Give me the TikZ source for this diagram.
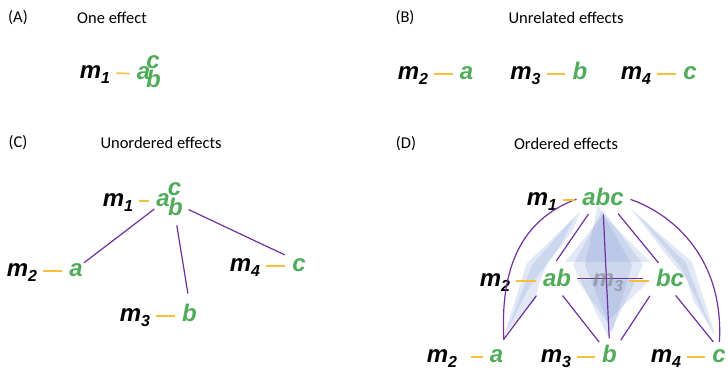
\documentclass[tikz,border=0pt]{standalone}
\usepackage{fontspec}
\newfontfamily\carlito{Carlito}
\newfontfamily\arialsans{Liberation Sans}
\usetikzlibrary{backgrounds}
\definecolor{linkpurple}{RGB}{112,48,160}
\definecolor{tieorange}{RGB}{246,190,58}
\definecolor{effgreen}{RGB}{80,172,90}
\definecolor{veilblue}{RGB}{125,150,210}
\newcommand{\msub}[1]{m\raisebox{-5pt}{\fontsize{16}{16}\selectfont #1}}
\tikzset{
  heading/.style={font=\carlito\fontsize{16.5}{19}\selectfont, inner sep=0pt},
  mlab/.style={font=\arialsans\bfseries\itshape\fontsize{24}{28}\selectfont, anchor=base, inner sep=1pt},
  eff/.style={mlab, text=effgreen},
  tie/.style={draw=tieorange, line width=1.5pt, shorten <=5pt, shorten >=6pt, transform canvas={yshift=4pt}},
  link/.style={draw=linkpurple, line width=1.2pt},
  veil/.style={fill=veilblue, fill opacity=0.22}
}

\begin{document}
\begin{tikzpicture}[x=1pt, y=1pt]
  \useasboundingbox (0,0) rectangle (728,371);

  \draw (18,353) node[heading] (hA) {(A)}; \draw (112,353) node[heading] (tA) {One effect};
  \draw (405,353) node[heading] (hB) {(B)}; \draw (566,353) node[heading] (tB) {Unrelated effects};
  \draw (18,228) node[heading] (hC) {(C)}; \draw (161,228) node[heading] (tC) {Unordered effects};
  \draw (406,227) node[heading] (hD) {(D)}; \draw (566,227) node[heading] (tD) {Ordered effects};

  % (A)
  \draw (95,292) node[mlab] (m1A) {\msub{1}};
  \draw (143.5,291) node[eff] (aA) {a};
  \draw (153,302) node[eff] (cA) {c}; \draw (153.5,283) node[eff] (bA) {b};
  \draw[tie] (m1A.mid east) -- (aA.mid west);

  % (B)
  \draw (413,291) node[mlab] (m2B) {\msub{2}}; \draw (466.5,291) node[eff] (aB) {a};
  \draw (525.5,291) node[mlab] (m3B) {\msub{3}}; \draw (580,291) node[eff] (bB) {b};
  \draw (636,291) node[mlab] (m4B) {\msub{4}}; \draw (690,291) node[eff] (cB) {c};
  \draw[tie] (m2B.mid east) -- (aB.mid west);
  \draw[tie] (m3B.mid east) -- (bB.mid west);
  \draw[tie] (m4B.mid east) -- (cB.mid west);

  % (C)
  \draw (118,164) node[mlab] (m1C) {\msub{1}}; \draw (163,164) node[eff] (aC) {a};
  \draw (174.5,175) node[eff] (cC) {c}; \draw (175.5,155) node[eff] (bC) {b};
  \draw (22,94) node[mlab] (m2C) {\msub{2}}; \draw (76,94) node[eff] (aC2) {a};
  \draw (245,99) node[mlab] (m4C) {\msub{4}}; \draw (299,99) node[eff] (cC4) {c};
  \draw (135,49) node[mlab] (m3C) {\msub{3}}; \draw (189.5,49) node[eff] (bC3) {b};
  \draw[tie] (m1C.mid east) -- (aC.mid west);
  \draw[tie] (m2C.mid east) -- (aC2.mid west);
  \draw[tie] (m4C.mid east) -- (cC4.mid west);
  \draw[tie] (m3C.mid east) -- (bC3.mid west);
  \draw[link, shorten <=1pt] (aC.south west) -- (aC2.north east);
  \draw[link, shorten <=8pt, shorten >=10pt] (bC.south) -- (bC3.north);
  \draw[link, shorten <=5pt, shorten >=7pt] (bC.east) -- (cC4.north west);

  % (D)
  \fill[veil] (580,159) -- (527,108) -- (504,36) -- (535,71) -- (540,91) -- (548,108) -- (572,139) -- cycle;
  \fill[veil] (575,155) -- (532,106) -- (507,40) -- (530,85) -- (560,125) -- cycle;
  \fill[veil] (630,163) -- (692,109) -- (716,34) -- (693,71) -- (687,91) -- (668,114) -- (645,144) -- cycle;
  \fill[veil] (636,158) -- (686,108) -- (712,40) -- (680,105) -- (655,135) -- cycle;
  \fill[veil] (603,161) -- (573,106) -- (608,34) -- (643,106) -- cycle;
  \fill[veil] (603,156) -- (565,109) -- (650,109) -- cycle;
  \fill[veil] (577,91) -- (650,91) -- (607,49) -- cycle;
  \fill[veil] (598,166) -- (585,106) -- (612,38) -- (632,106) -- cycle;

  \draw (542,165) node[mlab] (m1D) {\msub{1}}; \draw (603,165) node[eff] (abcD) {abc};
  \draw (495,84) node[mlab] (m2D) {\msub{2}}; \draw (557,84) node[eff] (abD) {ab};
  \draw (670,84) node[eff] (bcD) {bc};
  \draw (442,8) node[mlab] (m2D3) {\msub{2}}; \draw (496.5,8) node[eff] (aD3) {a};
  \draw (556,8) node[mlab] (m3D3) {\msub{3}}; \draw (609.5,8) node[eff] (bD3) {b};
  \draw (666,8) node[mlab] (m4D3) {\msub{4}}; \draw (719,8) node[eff] (cD3) {c};

  \draw[link, shorten <=5pt, shorten >=9pt] (abcD.west) .. controls (520,151) and (500,101) .. (aD3.north east);
  \draw[link, shorten <=6pt, shorten >=7pt] (abcD.east) .. controls (675,156) and (724,111) .. (cD3.north);
  \draw[link, shorten <=8pt, shorten >=9pt] (abcD.-135) -- (abD.120);
  \draw[link, shorten <=7pt, shorten >=6pt] (abcD.south) -- (bD3.north);
  \draw[link, shorten <=8pt, shorten >=7pt] (abcD.-45) -- (bcD.125);
  \draw[link, shorten <=9pt, shorten >=12pt] (abD.south west) -- (aD3.north);
  \draw[link, shorten <=9pt, shorten >=3pt] (abD.south) -- (bD3.north west);
  \draw[link, shorten <=9pt, shorten >=5pt] (bcD.south west) -- (bD3.north east);
  \draw[link, shorten <=9pt, shorten >=9pt] (bcD.south) -- (cD3.north);
  \draw[link, shorten <=5pt, shorten >=12pt] (abD.east) -- (bcD.west);

  \draw (608,84) node[mlab, text=gray, text opacity=0.6] (m3D) {\msub{3}};
  \draw[tie] (m1D.mid east) -- (abcD.mid west);
  \draw[tie] (m2D.mid east) -- (abD.mid west);
  \draw[tie] (m3D.mid east) -- (bcD.mid west);
  \draw[tie, shorten <=13pt] (m2D3.mid east) -- (aD3.mid west);
  \draw[tie] (m3D3.mid east) -- (bD3.mid west);
  \draw[tie] (m4D3.mid east) -- (cD3.mid west);

\end{tikzpicture}
\end{document}
